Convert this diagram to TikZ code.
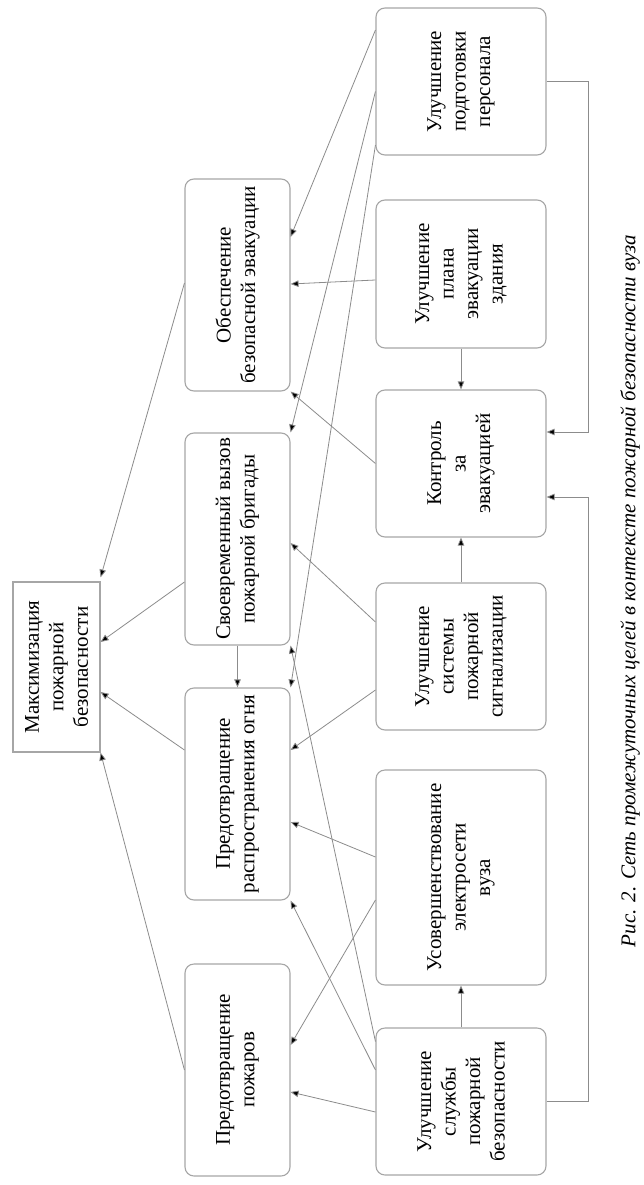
\documentclass[tikz,border=0pt]{standalone}
\usepackage{fontspec}
\setmainfont{Liberation Serif}
\usetikzlibrary{arrows.meta,calc}
\definecolor{boxgray}{HTML}{A6A6A6}
\definecolor{linegray}{HTML}{8C8C8C}
\begin{document}
\begin{tikzpicture}[x=1pt,y=-1pt,
  box/.style={draw=boxgray, line width=1.1pt, rounded corners=9pt, rotate=90, align=center,
    inner sep=0pt, font=\fontsize{21}{24.5}\selectfont, text=black},
  midbox/.style={box, minimum width=212pt, minimum height=105pt},
  rightbox/.style={box, minimum height=170pt},
  link/.style={draw=linegray, line width=0.8pt, -{Triangle[length=8pt,width=6.5pt,fill=black]}},
]
\fill[white] (0,0) rectangle (644,1185);
\useasboundingbox (0,0) rectangle (644,1185);

% goal
\node[box, sharp corners, minimum width=170pt, minimum height=87pt] (root) at (56.5,667)
  {Максимизация\\пожарной\\безопасности};

% intermediate goals
\node[midbox] (obesp) at (237.5,285) {Обеспечение\\безопасной эвакуации};
\node[midbox] (vyzov) at (237.5,539) {Своевременный вызов\\пожарной бригады};
\node[midbox] (rasp)  at (237.5,794) {Предотвращение\\распространения огня};
\node[midbox] (pozh)  at (237.5,1070) {Предотвращение\\пожаров};

% measures
\node[rightbox, minimum width=147pt] (podg)  at (461,81.5)  {Улучшение\\подготовки\\персонала};
\node[rightbox, minimum width=148pt] (plan)  at (461,274)   {Улучшение\\плана\\эвакуации\\здания};
\node[rightbox, minimum width=147pt] (kontr) at (461,463.5) {Контроль\\за\\эвакуацией};
\node[rightbox, minimum width=147pt] (sign)  at (461,656.5) {Улучшение\\системы\\пожарной\\сигнализации};
\node[rightbox, minimum width=215pt] (elek)  at (461,877.5) {Усовершенствование\\электросети\\вуза};
\node[rightbox, minimum width=147pt] (sluzh) at (461,1101.5) {Улучшение\\службы\\пожарной\\безопасности};

% caption
\node[rotate=90, inner sep=0pt, font=\itshape\fontsize{21}{24}\selectfont] (cap) at (630,591)
  {Рис. 2. Сеть промежуточных целей в контексте пожарной безопасности вуза};

% middle -> root
\draw[link] ($(obesp.north)+(0,-2)$) -- ($(root.south east)+(0,-4)$);
\draw[link] ($(vyzov.north)+(0,43)$) -- ($(root.south)+(0,-25)$);
\draw[link] ($(rasp.north)+(0,-44)$) -- ($(root.south)+(0,25)$);
\draw[link] (pozh.north) -- (root.south west);
\draw[link] (vyzov.west) -- (rasp.east);

% right -> middle
\draw[link] ($(podg.north)+(0,-51.5)$) -- ($(obesp.south)+(0,-48)$);
\draw[link] ($(podg.north)+(0,10)$) -- (vyzov.south east);
\draw[link] ($(podg.north)+(0,63.5)$) -- (rasp.south east);
\draw[link] ($(plan.north)+(0,6)$) -- ($(obesp.south)+(0,-1)$);
\draw[link] (kontr.north) -- (obesp.south west);
\draw[link] ($(sign.north)+(0,-34.5)$) -- ($(vyzov.south)+(0,4)$);
\draw[link] ($(sign.north)+(0,33.5)$) -- ($(rasp.south)+(0,-44)$);
\draw[link] ($(elek.north)+(0,-20.5)$) -- ($(rasp.south)+(0,28)$);
\draw[link] ($(elek.north)+(0,22.5)$) -- ($(pozh.south)+(0,-25)$);
\draw[link] ($(sluzh.north)+(0,-60)$) -- (vyzov.south west);
\draw[link] ($(sluzh.north)+(0,-31.5)$) -- (rasp.south west);
\draw[link] ($(sluzh.north)+(0,10.5)$) -- ($(pozh.south)+(0,22)$);

% within right column
\draw[link] (sluzh.east) -- (elek.west);
\draw[link] (sign.east) -- (kontr.west);
\draw[link] (plan.west) -- (kontr.east);
\draw[link] (podg.south) -- ++(42,0) |- ($(kontr.south)+(0,-31.5)$);
\draw[link] (sluzh.south) -- ++(42,0) |- ($(kontr.south)+(0,33.5)$);
\end{tikzpicture}
\end{document}
